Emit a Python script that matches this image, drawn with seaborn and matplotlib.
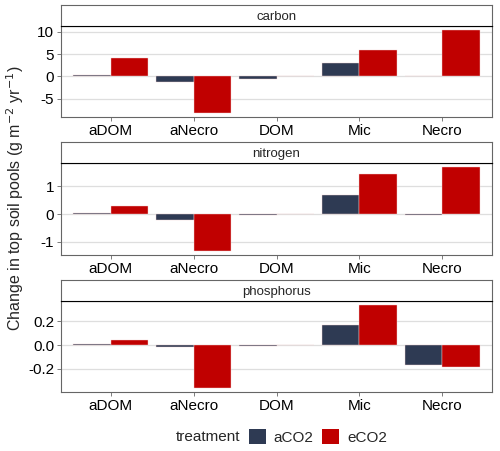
import numpy as np
import pandas as pd
import matplotlib
matplotlib.use("Agg")
import matplotlib.pyplot as plt
from matplotlib.patches import Patch
import seaborn as sns

# data
pools = ["aDOM", "aNecro", "DOM", "Mic", "Necro"]
elements = ["carbon", "nitrogen", "phosphorus"]
treatments = ["aCO2", "eCO2"]

carbon_a = [0.3, -1.3, -0.5, 2.9, 0.05]
carbon_e = [4.1, -8.2, 0.05, 5.9, 10.4]
nitrogen_a = [0.03, -0.22, -0.03, 0.69, -0.02]
nitrogen_e = [0.3, -1.32, 0.01, 1.42, 1.68]
phosphorus_a = [0.005, -0.017, -0.005, 0.17, -0.17]
phosphorus_e = [0.04, -0.36, 0.002, 0.335, -0.187]

yticks = {"carbon": [-5, 0, 5, 10],
          "nitrogen": [-1, 0, 1],
          "phosphorus": [-0.2, 0.0, 0.2]}
ytick_labels = {"carbon": ["-5", "0", "5", "10"],
                "nitrogen": ["-1", "0", "1"],
                "phosphorus": ["-0.2", "0.0", "0.2"]}

cols = {"aCO2": "#2e3a53", "eCO2": "#c00000"}

rows = []
for el, a, e in [("carbon", carbon_a, carbon_e),
                 ("nitrogen", nitrogen_a, nitrogen_e),
                 ("phosphorus", phosphorus_a, phosphorus_e)]:
    for p, va, ve in zip(pools, a, e):
        rows.append((el, p, "aCO2", va))
        rows.append((el, p, "eCO2", ve))
df = pd.DataFrame(rows, columns=["element", "pool", "treatment", "value"])

sns.set_theme(style="white")
plt.rcParams["font.family"] = ["Liberation Sans", "DejaVu Sans"]

W, H = 500, 451
fig = plt.figure(figsize=(W / 100, H / 100), dpi=100)

# pixel layout (strip top, panel top, panel bottom)
left, right = 61, 492
panels = [(5, 26, 117), (142, 163, 255), (280, 301, 392)]
border = "#666666"

for el, (st, pt, pb) in zip(elements, panels):
    ax = fig.add_axes([left / W, 1 - pb / H, (right - left) / W, (pb - pt) / H])
    sub = df[df.element == el]
    sns.barplot(data=sub, x="pool", y="value", hue="treatment", order=pools,
                hue_order=treatments, palette=cols, width=0.9, gap=0, saturation=1,
                edgecolor="#f2d0d0", linewidth=0.3, ax=ax, legend=False, errorbar=None)
    lo, hi = sub.value.min(), sub.value.max()
    pad = (hi - lo) * 0.05
    ax.set_ylim(lo - pad, hi + pad)
    ax.set_xlim(-0.6, 4.6)
    ax.set_yticks(yticks[el])
    ax.set_yticklabels(ytick_labels[el])
    ax.yaxis.grid(True, color="#dedede", linewidth=0.9)
    ax.xaxis.grid(False)
    ax.set_axisbelow(True)
    ax.set_xlabel("")
    ax.set_ylabel("")
    for s in ax.spines.values():
        s.set_color(border)
        s.set_linewidth(0.8)
    ax.spines["top"].set_color("black")
    ax.tick_params(axis="both", which="both", length=3, width=0.6, color=border,
                   labelsize=11, labelcolor="black", pad=2, bottom=True, left=True)

    # strip
    sax = fig.add_axes([left / W, 1 - pt / H, (right - left) / W, (pt - st) / H])
    sax.set_xticks([])
    sax.set_yticks([])
    sax.set_facecolor("white")
    for s in sax.spines.values():
        s.set_color(border)
        s.set_linewidth(0.8)
    sax.spines["bottom"].set_color("black")
    sax.text(0.5, 0.45, el, ha="center", va="center", fontsize=9.5, transform=sax.transAxes)

fig.text(15 / W, 1 - 198 / H, "Change in top soil pools (g m$^{-2}$ yr$^{-1}$)",
         rotation=90, ha="center", va="center", fontsize=11.5)

handles = [Patch(facecolor=cols[t], edgecolor="none", label=t) for t in treatments]
fig.text(240 / W, 1 - 437 / H, "treatment", ha="right", va="center", fontsize=11)
fig.legend(handles=handles, loc="center left", bbox_to_anchor=(249 / W, 1 - 437 / H),
           ncol=2, frameon=False, fontsize=11, handlelength=1.1, handleheight=1.1,
           handletextpad=0.5, columnspacing=0.6, borderaxespad=0, borderpad=0)

fig.savefig("out.png", dpi=100)
